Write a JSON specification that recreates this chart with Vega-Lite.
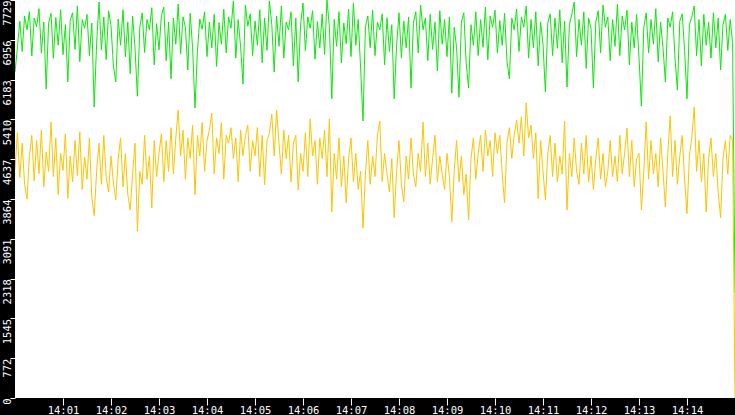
{
  "$schema": "https://vega.github.io/schema/vega-lite/v6.json",
  "width": 720,
  "height": 398,
  "autosize": {"type": "none"},
  "padding": {"left": 15, "top": 0, "right": 0, "bottom": 17},
  "background": "black",
  "config": {
    "view": {"stroke": null, "fill": "white"},
    "axis": {
      "labelColor": "white",
      "tickColor": "white",
      "labelFont": "Liberation Sans Narrow, DejaVu Sans Mono",
      "labelFontSize": 10.5,
      "domain": false,
      "grid": false,
      "title": null,
      "labelOverlap": false
    }
  },
  "data": {
    "values": [
      {"s":0,"g":6330,"o":4440},{"s":3,"g":6800,"o":5150},{"s":6,"g":7320,"o":4280},{"s":9,"g":6730,"o":4950},{"s":12,"g":7420,"o":4150},
      {"s":15,"g":7150,"o":3860},{"s":18,"g":7500,"o":4700},{"s":21,"g":6640,"o":5100},{"s":24,"g":7380,"o":4220},{"s":27,"g":7210,"o":5000},
      {"s":30,"g":7560,"o":4360},{"s":33,"g":6700,"o":5200},{"s":36,"g":7300,"o":4100},{"s":39,"g":6000,"o":4780},{"s":42,"g":7280,"o":4400},
      {"s":45,"g":7470,"o":5360},{"s":48,"g":6600,"o":4300},{"s":51,"g":7390,"o":5050},{"s":54,"g":6850,"o":3950},{"s":57,"g":7540,"o":4750},
      {"s":60,"g":6670,"o":4420},{"s":63,"g":7250,"o":5130},{"s":66,"g":6140,"o":3880},{"s":69,"g":7330,"o":4700},{"s":72,"g":7480,"o":4200},
      {"s":75,"g":6770,"o":5000},{"s":78,"g":7610,"o":4320},{"s":81,"g":6530,"o":5170},{"s":84,"g":7350,"o":4050},{"s":87,"g":7180,"o":4680},
      {"s":90,"g":7450,"o":4250},{"s":93,"g":6650,"o":5050},{"s":96,"g":7280,"o":3900},{"s":99,"g":5650,"o":3540},{"s":102,"g":6870,"o":4400},
      {"s":105,"g":7690,"o":4950},{"s":108,"g":6760,"o":4150},{"s":111,"g":7400,"o":5100},{"s":114,"g":6570,"o":4280},{"s":117,"g":7520,"o":4000},
      {"s":120,"g":7230,"o":4700},{"s":123,"g":6450,"o":4180},{"s":126,"g":6140,"o":3850},{"s":129,"g":7360,"o":4650},{"s":132,"g":6850,"o":5050},
      {"s":135,"g":7540,"o":4100},{"s":138,"g":6630,"o":4750},{"s":141,"g":7300,"o":3950},{"s":144,"g":6300,"o":3650},{"s":147,"g":7420,"o":4350},
      {"s":150,"g":6800,"o":4950},{"s":153,"g":5860,"o":3240},{"s":156,"g":7200,"o":4400},{"s":159,"g":7480,"o":4150},{"s":162,"g":6710,"o":5100},
      {"s":165,"g":7350,"o":4250},{"s":168,"g":7150,"o":4700},{"s":171,"g":7580,"o":3690},{"s":174,"g":6470,"o":5000},{"s":177,"g":7270,"o":4300},
      {"s":180,"g":6760,"o":4750},{"s":183,"g":7430,"o":5130},{"s":186,"g":7590,"o":4200},{"s":189,"g":6550,"o":5000},{"s":192,"g":7300,"o":4400},
      {"s":195,"g":6200,"o":5250},{"s":198,"g":7380,"o":4350},{"s":201,"g":6870,"o":5050},{"s":204,"g":7650,"o":5590},{"s":207,"g":6680,"o":4700},
      {"s":210,"g":7400,"o":5200},{"s":213,"g":7200,"o":4250},{"s":216,"g":6370,"o":5050},{"s":219,"g":7470,"o":4650},{"s":222,"g":6800,"o":5300},
      {"s":225,"g":5630,"o":3950},{"s":228,"g":6730,"o":5100},{"s":231,"g":7360,"o":4700},{"s":234,"g":7160,"o":5350},{"s":237,"g":7500,"o":4400},
      {"s":240,"g":6630,"o":5000},{"s":243,"g":7300,"o":5200},{"s":246,"g":6800,"o":5530},{"s":249,"g":7450,"o":4350},{"s":252,"g":6440,"o":5050},
      {"s":255,"g":7290,"o":4750},{"s":258,"g":6870,"o":5350},{"s":261,"g":7550,"o":4250},{"s":264,"g":6700,"o":5100},{"s":267,"g":7400,"o":4950},
      {"s":270,"g":7180,"o":5250},{"s":273,"g":7710,"o":4650},{"s":276,"g":6600,"o":5050},{"s":279,"g":7350,"o":4200},{"s":282,"g":6820,"o":5200},
      {"s":285,"g":6100,"o":4700},{"s":288,"g":7630,"o":5100},{"s":291,"g":7220,"o":5300},{"s":294,"g":7460,"o":4400},{"s":297,"g":6650,"o":5000},
      {"s":300,"g":7320,"o":4700},{"s":303,"g":6850,"o":5250},{"s":306,"g":7540,"o":4300},{"s":309,"g":6510,"o":5100},{"s":312,"g":7380,"o":4140},
      {"s":315,"g":6750,"o":5000},{"s":318,"g":7710,"o":5150},{"s":321,"g":7250,"o":5510},{"s":324,"g":6330,"o":4700},{"s":327,"g":7420,"o":5590},
      {"s":330,"g":6830,"o":4950},{"s":333,"g":7610,"o":4350},{"s":336,"g":6600,"o":5200},{"s":339,"g":7300,"o":4650},{"s":342,"g":7150,"o":5100},
      {"s":345,"g":7500,"o":4200},{"s":348,"g":6450,"o":4950},{"s":351,"g":7380,"o":5100},{"s":354,"g":6140,"o":4040},{"s":357,"g":7260,"o":4750},
      {"s":360,"g":7670,"o":4400},{"s":363,"g":6740,"o":5150},{"s":366,"g":7400,"o":4300},{"s":369,"g":7180,"o":5420},{"s":372,"g":7520,"o":4700},
      {"s":375,"g":6580,"o":5000},{"s":378,"g":7310,"o":4150},{"s":381,"g":6800,"o":5050},{"s":384,"g":7460,"o":4650},{"s":387,"g":6670,"o":5200},
      {"s":390,"g":7729,"o":4300},{"s":393,"g":7200,"o":5420},{"s":396,"g":5810,"o":3610},{"s":399,"g":7350,"o":4750},{"s":402,"g":6830,"o":4250},
      {"s":405,"g":7500,"o":5050},{"s":408,"g":6510,"o":4100},{"s":411,"g":7280,"o":4700},{"s":414,"g":6880,"o":3790},{"s":417,"g":7550,"o":4650},
      {"s":420,"g":6630,"o":5050},{"s":423,"g":7670,"o":4200},{"s":426,"g":6850,"o":4750},{"s":429,"g":7350,"o":4050},{"s":432,"g":6410,"o":4400},
      {"s":435,"g":5380,"o":3300},{"s":438,"g":7200,"o":4350},{"s":441,"g":7420,"o":5000},{"s":444,"g":6800,"o":4150},{"s":447,"g":7530,"o":4700},
      {"s":450,"g":6650,"o":4300},{"s":453,"g":7300,"o":5100},{"s":456,"g":7150,"o":5380},{"s":459,"g":7460,"o":4200},{"s":462,"g":6470,"o":4750},
      {"s":465,"g":7380,"o":4350},{"s":468,"g":6730,"o":4000},{"s":471,"g":7250,"o":4650},{"s":474,"g":5810,"o":3500},{"s":477,"g":6850,"o":4400},
      {"s":480,"g":7480,"o":5000},{"s":483,"g":6600,"o":4150},{"s":486,"g":7320,"o":3810},{"s":489,"g":6800,"o":4700},{"s":492,"g":7400,"o":4250},
      {"s":495,"g":6020,"o":5050},{"s":498,"g":7280,"o":4350},{"s":501,"g":7500,"o":4100},{"s":504,"g":6700,"o":4750},{"s":507,"g":7630,"o":4400},
      {"s":510,"g":7150,"o":5360},{"s":513,"g":7380,"o":4300},{"s":516,"g":6550,"o":4950},{"s":519,"g":7450,"o":4150},{"s":522,"g":6770,"o":4650},
      {"s":525,"g":7300,"o":5100},{"s":528,"g":6350,"o":4200},{"s":531,"g":7520,"o":4700},{"s":534,"g":6870,"o":4350},{"s":537,"g":7350,"o":4050},
      {"s":540,"g":6630,"o":4750},{"s":543,"g":7400,"o":4300},{"s":546,"g":5920,"o":3420},{"s":549,"g":7200,"o":4400},{"s":552,"g":6800,"o":5000},
      {"s":555,"g":5840,"o":4200},{"s":558,"g":7300,"o":4700},{"s":561,"g":7480,"o":3950},{"s":564,"g":6500,"o":4350},{"s":567,"g":6020,"o":3460},
      {"s":570,"g":7250,"o":4650},{"s":573,"g":6850,"o":5050},{"s":576,"g":7500,"o":4250},{"s":579,"g":6650,"o":4750},{"s":582,"g":7350,"o":5100},
      {"s":585,"g":6810,"o":4400},{"s":588,"g":7590,"o":5200},{"s":591,"g":6570,"o":4700},{"s":594,"g":7420,"o":5000},{"s":597,"g":7200,"o":4300},
      {"s":600,"g":7530,"o":5150},{"s":603,"g":6700,"o":4750},{"s":606,"g":7330,"o":5100},{"s":609,"g":6850,"o":4350},{"s":612,"g":7470,"o":3790},
      {"s":615,"g":6530,"o":4950},{"s":618,"g":6200,"o":5250},{"s":621,"g":7380,"o":4650},{"s":624,"g":7150,"o":5100},{"s":627,"g":7550,"o":5400},
      {"s":630,"g":6730,"o":4950},{"s":633,"g":7400,"o":5460},{"s":636,"g":7200,"o":4700},{"s":639,"g":7610,"o":5730},{"s":642,"g":6600,"o":5050},
      {"s":645,"g":7350,"o":5300},{"s":648,"g":6800,"o":4650},{"s":651,"g":7500,"o":5150},{"s":654,"g":6450,"o":3870},{"s":657,"g":7300,"o":5000},
      {"s":660,"g":6870,"o":4400},{"s":663,"g":5940,"o":3850},{"s":666,"g":7280,"o":4750},{"s":669,"g":7460,"o":5100},{"s":672,"g":6650,"o":4300},
      {"s":675,"g":7380,"o":4950},{"s":678,"g":6790,"o":4200},{"s":681,"g":7540,"o":4700},{"s":684,"g":6510,"o":4350},{"s":687,"g":7320,"o":5380},
      {"s":690,"g":6040,"o":3650},{"s":693,"g":7250,"o":4750},{"s":696,"g":7450,"o":4300},{"s":699,"g":7690,"o":5050},{"s":702,"g":6630,"o":4400},
      {"s":705,"g":7350,"o":4150},{"s":708,"g":6850,"o":4950},{"s":711,"g":7500,"o":4350},{"s":714,"g":6400,"o":5100},{"s":717,"g":7380,"o":4200},
      {"s":720,"g":7180,"o":4700},{"s":723,"g":6020,"o":4050},{"s":726,"g":7300,"o":4650},{"s":729,"g":7520,"o":5050},{"s":732,"g":6700,"o":4250},
      {"s":735,"g":7630,"o":4750},{"s":738,"g":7200,"o":4100},{"s":741,"g":7400,"o":4400},{"s":744,"g":6550,"o":5000},{"s":747,"g":7350,"o":4300},
      {"s":750,"g":6830,"o":4700},{"s":753,"g":7650,"o":4200},{"s":756,"g":6650,"o":5100},{"s":759,"g":7420,"o":4350},{"s":762,"g":7150,"o":4750},
      {"s":765,"g":7530,"o":5240},{"s":768,"g":6470,"o":4300},{"s":771,"g":7300,"o":5000},{"s":774,"g":6800,"o":4100},{"s":777,"g":7450,"o":4650},
      {"s":780,"g":6610,"o":4750},{"s":783,"g":5670,"o":3650},{"s":786,"g":7200,"o":4400},{"s":789,"g":7480,"o":5360},{"s":792,"g":6700,"o":4250},
      {"s":795,"g":7350,"o":5000},{"s":798,"g":6870,"o":4350},{"s":801,"g":7560,"o":4750},{"s":804,"g":6530,"o":4100},{"s":807,"g":7300,"o":5050},
      {"s":810,"g":6800,"o":4400},{"s":813,"g":6140,"o":3710},{"s":816,"g":7380,"o":4750},{"s":819,"g":7200,"o":5480},{"s":822,"g":7500,"o":4300},
      {"s":825,"g":6600,"o":5000},{"s":828,"g":5980,"o":4150},{"s":831,"g":7320,"o":4700},{"s":834,"g":7460,"o":5100},{"s":837,"g":6750,"o":4250},
      {"s":840,"g":5810,"o":3580},{"s":843,"g":7250,"o":4700},{"s":846,"g":7400,"o":5050},{"s":849,"g":7610,"o":5650},{"s":852,"g":6650,"o":4400},
      {"s":855,"g":7350,"o":5000},{"s":858,"g":6450,"o":4200},{"s":861,"g":7450,"o":4750},{"s":864,"g":6850,"o":3610},{"s":867,"g":7300,"o":4650},
      {"s":870,"g":6600,"o":5050},{"s":873,"g":7480,"o":4300},{"s":876,"g":6800,"o":4750},{"s":879,"g":7380,"o":4000},{"s":882,"g":6370,"o":3500},
      {"s":885,"g":7250,"o":4650},{"s":888,"g":7450,"o":5000},{"s":891,"g":6750,"o":4350},{"s":894,"g":7350,"o":5100},{"s":897,"g":6900,"o":5000},
      {"s":900,"g":2040,"o":0}
    ]
  },
  "transform": [{"fold": ["g", "o"], "as": ["series", "v"]}],
  "mark": {"type": "line", "strokeWidth": 1, "strokeJoin": "bevel", "clip": true},
  "encoding": {
    "x": {
      "field": "s",
      "type": "quantitative",
      "scale": {"domain": [0, 900], "nice": false, "zero": false},
      "axis": {
        "values": [60, 120, 180, 240, 300, 360, 420, 480, 540, 600, 660, 720, 780, 840],
        "labelExpr": "'14:' + (datum.value < 600 ? '0' : '') + (datum.value / 60)",
        "tickSize": 7,
        "labelPadding": 0,
        "labelAngle": 0,
        "labelAlign": "center",
        "labelBaseline": "top",
        "labelOverlap": false
      }
    },
    "y": {
      "field": "v",
      "type": "quantitative",
      "scale": {"domain": [0, 7729], "nice": false, "zero": true},
      "axis": {
        "values": [0, 772.9, 1545.8, 2318.7, 3091.6, 3864.5, 4637.4, 5410.3, 6183.2, 6956.1, 7729],
        "labelExpr": "floor(datum.value)",
        "tickSize": 5,
        "labelPadding": 0,
        "labelAngle": -90,
        "labelAlign": "right",
        "labelBaseline": "alphabetic",
        "labelOverlap": false,
        "labelSeparation": 0
      }
    },
    "color": {
      "field": "series",
      "type": "nominal",
      "scale": {"domain": ["g", "o"], "range": ["#0be80b", "#fec400"]},
      "legend": null
    }
  }
}
